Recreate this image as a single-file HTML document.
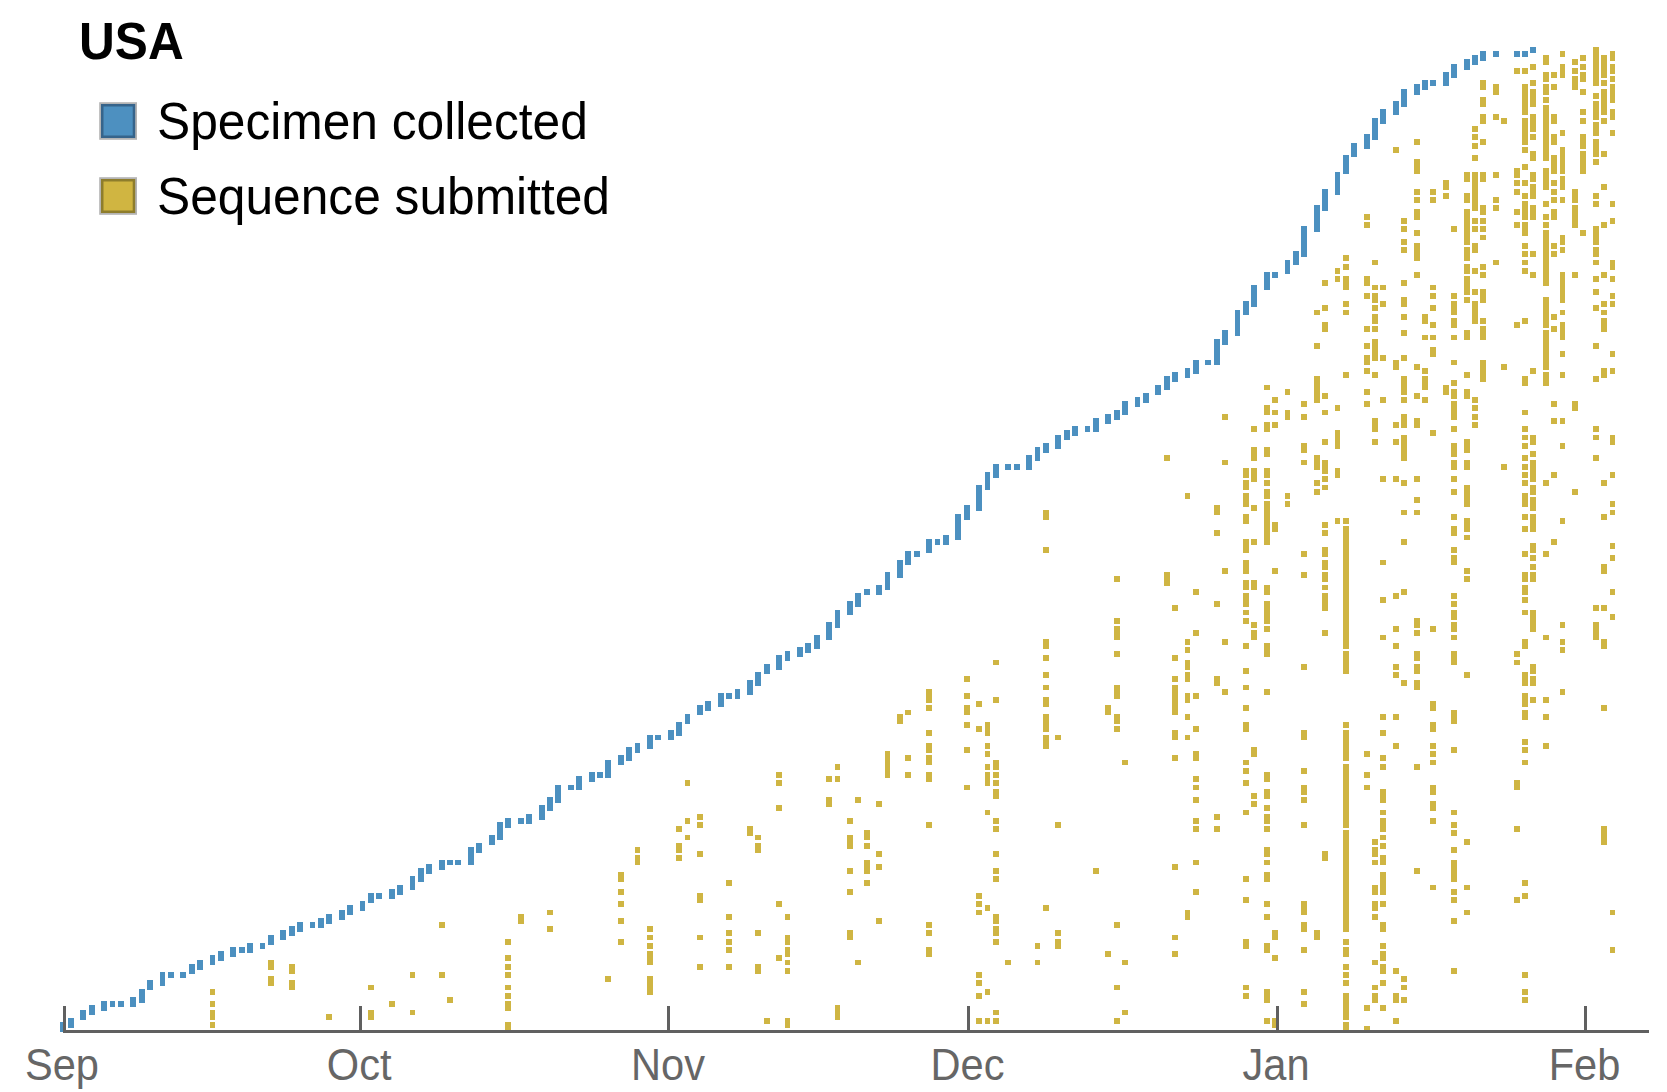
<!DOCTYPE html>
<html><head><meta charset="utf-8"><title>USA</title>
<style>
html,body{margin:0;padding:0;background:#fff;}
body{width:1667px;height:1092px;overflow:hidden;position:relative;font-family:"Liberation Sans",sans-serif;}
svg{position:absolute;left:0;top:0;}
text{font-family:"Liberation Sans",sans-serif;}
</style></head><body>
<svg width="1667" height="1092" viewBox="0 0 1667 1092">
<rect width="1667" height="1092" fill="#fff"/>

<path fill="#cfb543" shape-rendering="crispEdges" d="M210 1022h5v6h-5zM210 1010h5v10h-5zM210 1001h5v6h-5zM210 989h5v6h-5zM268 976h6v10h-6zM268 960h6v10h-6zM289 980h6v10h-6zM289 964h6v10h-6zM326 1014h6v6h-6zM368 1010h6v10h-6zM368 985h6v5h-6zM389 1001h6v6h-6zM410 1010h5v5h-5zM410 972h5v6h-5zM439 972h6v6h-6zM439 922h6v6h-6zM447 997h6v6h-6zM505 1022h6v8h-6zM505 1001h6v10h-6zM505 993h6v6h-6zM505 985h6v5h-6zM505 972h6v6h-6zM505 964h6v6h-6zM505 955h6v6h-6zM505 939h6v6h-6zM518 914h6v10h-6zM547 926h6v6h-6zM547 910h6v5h-6zM605 976h6v6h-6zM618 939h6v6h-6zM618 918h6v6h-6zM618 901h6v6h-6zM618 889h6v6h-6zM618 872h6v10h-6zM635 855h5v10h-5zM635 847h5v6h-5zM647 976h6v19h-6zM647 951h6v14h-6zM647 943h6v6h-6zM647 935h6v5h-6zM647 926h6v6h-6zM676 855h6v6h-6zM676 843h6v10h-6zM676 826h6v6h-6zM685 835h5v5h-5zM685 818h5v6h-5zM685 780h5v6h-5zM697 964h6v6h-6zM697 935h6v5h-6zM697 893h6v10h-6zM697 851h6v6h-6zM697 822h6v6h-6zM697 814h6v6h-6zM726 964h6v6h-6zM726 947h6v6h-6zM726 939h6v6h-6zM726 930h6v6h-6zM726 914h6v6h-6zM726 880h6v6h-6zM747 826h6v10h-6zM755 964h6v10h-6zM755 930h6v6h-6zM755 843h6v10h-6zM755 835h6v5h-6zM764 1018h6v6h-6zM776 955h6v6h-6zM776 901h6v6h-6zM776 805h6v6h-6zM776 780h6v6h-6zM776 772h6v6h-6zM785 1018h5v10h-5zM785 968h5v6h-5zM785 960h5v5h-5zM785 947h5v10h-5zM785 935h5v10h-5zM785 914h5v6h-5zM826 797h6v10h-6zM826 776h6v6h-6zM835 1005h5v15h-5zM835 776h5v6h-5zM835 764h5v6h-5zM847 930h6v10h-6zM847 889h6v6h-6zM847 868h6v6h-6zM847 835h6v14h-6zM847 818h6v6h-6zM855 960h6v5h-6zM855 797h6v6h-6zM864 880h6v6h-6zM864 860h6v14h-6zM864 843h6v6h-6zM864 830h6v10h-6zM876 918h6v6h-6zM876 864h6v6h-6zM876 851h6v6h-6zM876 801h6v6h-6zM885 751h5v27h-5zM897 714h6v10h-6zM905 772h6v6h-6zM905 755h6v6h-6zM905 710h6v5h-6zM926 947h6v10h-6zM926 930h6v6h-6zM926 922h6v6h-6zM926 822h6v6h-6zM926 772h6v10h-6zM926 755h6v10h-6zM926 743h6v10h-6zM926 730h6v6h-6zM926 705h6v6h-6zM926 689h6v14h-6zM964 785h6v5h-6zM964 747h6v6h-6zM964 722h6v6h-6zM964 705h6v10h-6zM964 693h6v6h-6zM964 676h6v6h-6zM976 1018h6v6h-6zM976 993h6v6h-6zM976 980h6v6h-6zM976 972h6v6h-6zM976 910h6v5h-6zM976 901h6v6h-6zM976 893h6v6h-6zM976 726h6v6h-6zM976 701h6v6h-6zM985 1018h5v6h-5zM985 989h5v6h-5zM985 905h5v6h-5zM985 810h5v5h-5zM985 772h5v14h-5zM985 764h5v6h-5zM985 751h5v6h-5zM985 743h5v6h-5zM985 722h5v14h-5zM993 1018h6v6h-6zM993 1010h6v5h-6zM993 939h6v6h-6zM993 926h6v10h-6zM993 914h6v10h-6zM993 876h6v6h-6zM993 868h6v6h-6zM993 851h6v6h-6zM993 826h6v6h-6zM993 818h6v6h-6zM993 789h6v10h-6zM993 780h6v6h-6zM993 772h6v6h-6zM993 760h6v10h-6zM993 697h6v6h-6zM993 660h6v5h-6zM1005 960h6v5h-6zM1035 960h5v5h-5zM1035 943h5v6h-5zM1043 905h6v6h-6zM1043 735h6v14h-6zM1043 714h6v18h-6zM1043 697h6v10h-6zM1043 685h6v5h-6zM1043 672h6v6h-6zM1043 655h6v6h-6zM1043 639h6v10h-6zM1043 547h6v6h-6zM1043 510h6v10h-6zM1055 939h6v10h-6zM1055 930h6v6h-6zM1055 822h6v6h-6zM1055 735h6v5h-6zM1093 868h6v6h-6zM1105 951h6v6h-6zM1105 705h6v10h-6zM1114 1018h6v6h-6zM1114 985h6v5h-6zM1114 922h6v6h-6zM1114 726h6v6h-6zM1114 714h6v10h-6zM1114 685h6v14h-6zM1114 651h6v6h-6zM1114 626h6v14h-6zM1114 618h6v6h-6zM1114 576h6v6h-6zM1122 1010h6v5h-6zM1122 960h6v5h-6zM1122 760h6v5h-6zM1164 572h6v14h-6zM1164 455h6v6h-6zM1172 951h6v6h-6zM1172 935h6v5h-6zM1172 864h6v6h-6zM1172 755h6v6h-6zM1172 730h6v10h-6zM1172 685h6v30h-6zM1172 676h6v6h-6zM1172 655h6v6h-6zM1172 605h6v6h-6zM1185 910h5v10h-5zM1185 735h5v5h-5zM1185 714h5v6h-5zM1185 693h5v10h-5zM1185 672h5v10h-5zM1185 660h5v10h-5zM1185 647h5v6h-5zM1185 639h5v6h-5zM1185 493h5v6h-5zM1193 889h6v6h-6zM1193 860h6v5h-6zM1193 826h6v6h-6zM1193 818h6v6h-6zM1193 797h6v6h-6zM1193 785h6v5h-6zM1193 776h6v6h-6zM1193 751h6v10h-6zM1193 726h6v6h-6zM1193 693h6v6h-6zM1193 630h6v6h-6zM1193 589h6v6h-6zM1214 826h6v6h-6zM1214 814h6v6h-6zM1214 676h6v10h-6zM1214 601h6v6h-6zM1214 530h6v6h-6zM1214 505h6v10h-6zM1222 689h6v6h-6zM1222 639h6v6h-6zM1222 568h6v6h-6zM1222 460h6v5h-6zM1222 414h6v6h-6zM1243 993h6v6h-6zM1243 985h6v5h-6zM1243 939h6v10h-6zM1243 897h6v6h-6zM1243 876h6v6h-6zM1243 810h6v5h-6zM1243 780h6v6h-6zM1243 768h6v6h-6zM1243 760h6v5h-6zM1243 722h6v10h-6zM1243 705h6v6h-6zM1243 685h6v5h-6zM1243 668h6v6h-6zM1243 643h6v6h-6zM1243 618h6v6h-6zM1243 610h6v5h-6zM1243 593h6v14h-6zM1243 580h6v10h-6zM1243 560h6v14h-6zM1243 539h6v14h-6zM1243 514h6v10h-6zM1243 493h6v14h-6zM1243 480h6v10h-6zM1243 468h6v10h-6zM1251 801h6v6h-6zM1251 793h6v6h-6zM1251 747h6v10h-6zM1251 630h6v10h-6zM1251 622h6v6h-6zM1251 580h6v10h-6zM1251 539h6v6h-6zM1251 505h6v6h-6zM1251 468h6v14h-6zM1251 447h6v14h-6zM1251 426h6v6h-6zM1264 1018h6v6h-6zM1264 989h6v14h-6zM1264 943h6v10h-6zM1264 914h6v6h-6zM1264 901h6v6h-6zM1264 872h6v10h-6zM1264 860h6v5h-6zM1264 847h6v10h-6zM1264 826h6v6h-6zM1264 814h6v10h-6zM1264 805h6v6h-6zM1264 789h6v10h-6zM1264 772h6v10h-6zM1264 689h6v6h-6zM1264 643h6v14h-6zM1264 626h6v6h-6zM1264 601h6v23h-6zM1264 585h6v10h-6zM1264 501h6v44h-6zM1264 489h6v10h-6zM1264 480h6v6h-6zM1264 468h6v10h-6zM1264 447h6v10h-6zM1264 422h6v10h-6zM1264 405h6v10h-6zM1264 385h6v5h-6zM1272 1018h6v10h-6zM1272 955h6v6h-6zM1272 930h6v10h-6zM1272 568h6v6h-6zM1272 522h6v10h-6zM1272 422h6v6h-6zM1272 410h6v5h-6zM1272 397h6v6h-6zM1285 501h5v6h-5zM1285 493h5v6h-5zM1285 410h5v10h-5zM1285 389h5v6h-5zM1301 1001h6v6h-6zM1301 989h6v6h-6zM1301 947h6v6h-6zM1301 922h6v10h-6zM1301 901h6v14h-6zM1301 822h6v6h-6zM1301 797h6v6h-6zM1301 785h6v10h-6zM1301 768h6v6h-6zM1301 730h6v10h-6zM1301 664h6v6h-6zM1301 572h6v6h-6zM1301 551h6v6h-6zM1301 460h6v5h-6zM1301 443h6v10h-6zM1301 414h6v6h-6zM1301 401h6v6h-6zM1314 930h6v10h-6zM1314 489h6v6h-6zM1314 480h6v6h-6zM1314 455h6v15h-6zM1314 376h6v27h-6zM1314 343h6v6h-6zM1314 310h6v5h-6zM1322 851h6v10h-6zM1322 630h6v6h-6zM1322 593h6v18h-6zM1322 585h6v5h-6zM1322 572h6v10h-6zM1322 560h6v10h-6zM1322 547h6v10h-6zM1322 530h6v6h-6zM1322 522h6v6h-6zM1322 485h6v5h-6zM1322 476h6v6h-6zM1322 460h6v14h-6zM1322 439h6v6h-6zM1322 410h6v5h-6zM1322 393h6v6h-6zM1322 322h6v10h-6zM1322 305h6v6h-6zM1322 280h6v6h-6zM1335 518h5v6h-5zM1335 468h5v10h-5zM1335 430h5v19h-5zM1335 405h5v6h-5zM1335 276h5v6h-5zM1335 268h5v6h-5zM1343 1022h6v8h-6zM1343 993h6v27h-6zM1343 980h6v6h-6zM1343 972h6v6h-6zM1343 964h6v6h-6zM1343 947h6v10h-6zM1343 939h6v6h-6zM1343 830h6v102h-6zM1343 764h6v64h-6zM1343 730h6v31h-6zM1343 722h6v6h-6zM1343 651h6v23h-6zM1343 526h6v123h-6zM1343 518h6v6h-6zM1343 372h6v6h-6zM1343 310h6v5h-6zM1343 301h6v6h-6zM1343 276h6v14h-6zM1343 264h6v6h-6zM1343 255h6v6h-6zM1364 1026h6v4h-6zM1364 1005h6v6h-6zM1364 785h6v5h-6zM1364 772h6v6h-6zM1364 751h6v6h-6zM1364 401h6v6h-6zM1364 389h6v6h-6zM1364 368h6v6h-6zM1364 355h6v10h-6zM1364 343h6v6h-6zM1364 326h6v6h-6zM1364 293h6v6h-6zM1364 276h6v10h-6zM1364 222h6v6h-6zM1364 214h6v6h-6zM1372 993h6v10h-6zM1372 985h6v5h-6zM1372 960h6v5h-6zM1372 914h6v6h-6zM1372 901h6v10h-6zM1372 885h6v10h-6zM1372 860h6v5h-6zM1372 847h6v10h-6zM1372 839h6v6h-6zM1372 439h6v6h-6zM1372 418h6v14h-6zM1372 372h6v6h-6zM1372 339h6v22h-6zM1372 326h6v6h-6zM1372 314h6v10h-6zM1372 305h6v6h-6zM1372 293h6v10h-6zM1372 285h6v5h-6zM1372 260h6v5h-6zM1380 1005h6v6h-6zM1380 980h6v6h-6zM1380 964h6v10h-6zM1380 951h6v10h-6zM1380 943h6v6h-6zM1380 922h6v10h-6zM1380 901h6v6h-6zM1380 872h6v23h-6zM1380 855h6v10h-6zM1380 843h6v6h-6zM1380 835h6v5h-6zM1380 818h6v14h-6zM1380 810h6v5h-6zM1380 789h6v14h-6zM1380 764h6v6h-6zM1380 755h6v6h-6zM1380 730h6v6h-6zM1380 714h6v6h-6zM1380 635h6v5h-6zM1380 597h6v6h-6zM1380 560h6v5h-6zM1380 476h6v6h-6zM1380 397h6v6h-6zM1380 355h6v6h-6zM1380 301h6v6h-6zM1380 285h6v5h-6zM1393 1018h6v6h-6zM1393 993h6v10h-6zM1393 968h6v6h-6zM1393 743h6v6h-6zM1393 714h6v6h-6zM1393 672h6v6h-6zM1393 664h6v6h-6zM1393 643h6v6h-6zM1393 626h6v6h-6zM1393 593h6v6h-6zM1393 476h6v6h-6zM1393 439h6v6h-6zM1393 422h6v6h-6zM1393 360h6v10h-6zM1393 147h6v6h-6zM1401 997h6v6h-6zM1401 985h6v5h-6zM1401 976h6v6h-6zM1401 680h6v6h-6zM1401 589h6v6h-6zM1401 539h6v6h-6zM1401 510h6v5h-6zM1401 480h6v6h-6zM1401 435h6v26h-6zM1401 414h6v14h-6zM1401 397h6v6h-6zM1401 376h6v19h-6zM1401 355h6v6h-6zM1401 330h6v6h-6zM1401 314h6v6h-6zM1401 297h6v10h-6zM1401 280h6v6h-6zM1401 247h6v6h-6zM1401 239h6v6h-6zM1401 226h6v6h-6zM1401 218h6v6h-6zM1414 868h6v6h-6zM1414 764h6v6h-6zM1414 680h6v10h-6zM1414 664h6v10h-6zM1414 651h6v10h-6zM1414 630h6v6h-6zM1414 618h6v10h-6zM1414 510h6v5h-6zM1414 497h6v6h-6zM1414 476h6v6h-6zM1414 418h6v10h-6zM1414 393h6v6h-6zM1414 364h6v6h-6zM1414 272h6v6h-6zM1414 243h6v18h-6zM1414 230h6v6h-6zM1414 209h6v11h-6zM1414 197h6v6h-6zM1414 189h6v6h-6zM1414 159h6v15h-6zM1414 139h6v6h-6zM1422 397h6v6h-6zM1422 376h6v14h-6zM1422 368h6v6h-6zM1422 335h6v5h-6zM1422 314h6v10h-6zM1430 885h6v5h-6zM1430 818h6v6h-6zM1430 801h6v10h-6zM1430 785h6v10h-6zM1430 760h6v5h-6zM1430 751h6v6h-6zM1430 743h6v6h-6zM1430 722h6v10h-6zM1430 701h6v10h-6zM1430 626h6v6h-6zM1430 430h6v6h-6zM1430 347h6v10h-6zM1430 335h6v5h-6zM1430 322h6v6h-6zM1430 305h6v6h-6zM1430 293h6v6h-6zM1430 285h6v5h-6zM1430 197h6v6h-6zM1430 189h6v6h-6zM1443 385h6v10h-6zM1443 193h6v6h-6zM1443 180h6v10h-6zM1451 968h6v6h-6zM1451 918h6v6h-6zM1451 897h6v6h-6zM1451 889h6v6h-6zM1451 860h6v22h-6zM1451 847h6v6h-6zM1451 830h6v6h-6zM1451 822h6v6h-6zM1451 810h6v5h-6zM1451 747h6v6h-6zM1451 710h6v14h-6zM1451 651h6v14h-6zM1451 635h6v5h-6zM1451 622h6v10h-6zM1451 610h6v10h-6zM1451 601h6v6h-6zM1451 593h6v6h-6zM1451 555h6v10h-6zM1451 547h6v6h-6zM1451 526h6v10h-6zM1451 514h6v6h-6zM1451 489h6v6h-6zM1451 476h6v6h-6zM1451 460h6v10h-6zM1451 443h6v14h-6zM1451 426h6v6h-6zM1451 401h6v19h-6zM1451 389h6v10h-6zM1451 380h6v6h-6zM1451 360h6v5h-6zM1451 335h6v5h-6zM1451 318h6v10h-6zM1451 301h6v14h-6zM1451 293h6v6h-6zM1451 226h6v6h-6zM1464 910h6v5h-6zM1464 885h6v5h-6zM1464 839h6v6h-6zM1464 672h6v6h-6zM1464 576h6v6h-6zM1464 568h6v6h-6zM1464 535h6v5h-6zM1464 518h6v14h-6zM1464 485h6v22h-6zM1464 460h6v10h-6zM1464 439h6v14h-6zM1464 389h6v10h-6zM1464 372h6v6h-6zM1464 330h6v10h-6zM1464 297h6v6h-6zM1464 276h6v19h-6zM1464 264h6v10h-6zM1464 247h6v14h-6zM1464 209h6v36h-6zM1464 193h6v10h-6zM1464 172h6v10h-6zM1472 422h6v6h-6zM1472 414h6v6h-6zM1472 405h6v6h-6zM1472 397h6v6h-6zM1472 301h6v23h-6zM1472 289h6v6h-6zM1472 268h6v6h-6zM1472 243h6v10h-6zM1472 226h6v6h-6zM1472 218h6v6h-6zM1472 172h6v39h-6zM1472 155h6v6h-6zM1472 143h6v6h-6zM1472 134h6v6h-6zM1472 126h6v6h-6zM1480 360h6v22h-6zM1480 326h6v14h-6zM1480 318h6v6h-6zM1480 289h6v14h-6zM1480 272h6v6h-6zM1480 264h6v6h-6zM1480 235h6v5h-6zM1480 226h6v6h-6zM1480 218h6v6h-6zM1480 205h6v10h-6zM1480 172h6v10h-6zM1480 139h6v6h-6zM1480 114h6v10h-6zM1480 97h6v10h-6zM1480 80h6v10h-6zM1493 260h6v5h-6zM1493 205h6v6h-6zM1493 197h6v6h-6zM1493 172h6v6h-6zM1493 114h6v6h-6zM1493 84h6v11h-6zM1501 464h6v6h-6zM1501 364h6v6h-6zM1501 118h6v6h-6zM1514 897h6v6h-6zM1514 826h6v6h-6zM1514 780h6v10h-6zM1514 660h6v5h-6zM1514 651h6v6h-6zM1514 322h6v6h-6zM1514 222h6v6h-6zM1514 209h6v6h-6zM1514 189h6v6h-6zM1514 180h6v6h-6zM1514 168h6v10h-6zM1514 68h6v6h-6zM1522 997h6v6h-6zM1522 989h6v6h-6zM1522 972h6v6h-6zM1522 893h6v6h-6zM1522 880h6v6h-6zM1522 760h6v5h-6zM1522 747h6v6h-6zM1522 739h6v6h-6zM1522 710h6v10h-6zM1522 693h6v14h-6zM1522 672h6v14h-6zM1522 639h6v10h-6zM1522 610h6v5h-6zM1522 597h6v6h-6zM1522 585h6v10h-6zM1522 572h6v10h-6zM1522 551h6v6h-6zM1522 526h6v6h-6zM1522 514h6v6h-6zM1522 493h6v14h-6zM1522 480h6v6h-6zM1522 472h6v6h-6zM1522 464h6v6h-6zM1522 455h6v6h-6zM1522 443h6v6h-6zM1522 435h6v5h-6zM1522 426h6v6h-6zM1522 410h6v5h-6zM1522 376h6v10h-6zM1522 318h6v6h-6zM1522 268h6v6h-6zM1522 260h6v5h-6zM1522 251h6v6h-6zM1522 243h6v6h-6zM1522 222h6v14h-6zM1522 201h6v19h-6zM1522 193h6v6h-6zM1522 180h6v6h-6zM1522 164h6v6h-6zM1522 147h6v6h-6zM1522 118h6v27h-6zM1522 84h6v31h-6zM1522 68h6v6h-6zM1530 697h6v6h-6zM1530 676h6v10h-6zM1530 664h6v10h-6zM1530 610h6v22h-6zM1530 572h6v10h-6zM1530 564h6v6h-6zM1530 555h6v6h-6zM1530 543h6v10h-6zM1530 514h6v18h-6zM1530 497h6v14h-6zM1530 485h6v10h-6zM1530 460h6v22h-6zM1530 451h6v6h-6zM1530 435h6v10h-6zM1530 368h6v6h-6zM1530 272h6v6h-6zM1530 251h6v6h-6zM1530 205h6v15h-6zM1530 184h6v15h-6zM1530 172h6v10h-6zM1530 151h6v10h-6zM1530 134h6v6h-6zM1530 114h6v18h-6zM1530 89h6v18h-6zM1530 80h6v6h-6zM1530 64h6v6h-6zM1543 743h6v6h-6zM1543 714h6v6h-6zM1543 697h6v6h-6zM1543 635h6v5h-6zM1543 551h6v6h-6zM1543 480h6v6h-6zM1543 372h6v14h-6zM1543 330h6v40h-6zM1543 297h6v31h-6zM1543 230h6v56h-6zM1543 222h6v6h-6zM1543 214h6v6h-6zM1543 201h6v6h-6zM1543 168h6v22h-6zM1543 105h6v56h-6zM1543 97h6v6h-6zM1543 84h6v11h-6zM1543 72h6v10h-6zM1543 55h6v10h-6zM1551 539h6v6h-6zM1551 472h6v6h-6zM1551 418h6v6h-6zM1551 401h6v6h-6zM1551 326h6v6h-6zM1551 314h6v6h-6zM1551 251h6v6h-6zM1551 243h6v6h-6zM1551 209h6v11h-6zM1551 197h6v6h-6zM1551 189h6v6h-6zM1551 180h6v6h-6zM1551 155h6v19h-6zM1551 134h6v11h-6zM1551 114h6v10h-6zM1551 84h6v6h-6zM1551 72h6v6h-6zM1560 689h5v6h-5zM1560 647h5v6h-5zM1560 639h5v6h-5zM1560 622h5v6h-5zM1560 518h5v6h-5zM1560 443h5v6h-5zM1560 418h5v6h-5zM1560 372h5v6h-5zM1560 351h5v6h-5zM1560 322h5v18h-5zM1560 310h5v5h-5zM1560 272h5v31h-5zM1560 247h5v6h-5zM1560 235h5v10h-5zM1560 197h5v6h-5zM1560 176h5v14h-5zM1560 147h5v27h-5zM1560 130h5v6h-5zM1560 64h5v14h-5zM1560 51h5v6h-5zM1572 489h6v6h-6zM1572 401h6v10h-6zM1572 272h6v6h-6zM1572 205h6v23h-6zM1572 189h6v14h-6zM1572 76h6v14h-6zM1572 68h6v6h-6zM1572 59h6v6h-6zM1580 230h6v6h-6zM1580 151h6v23h-6zM1580 134h6v15h-6zM1580 118h6v6h-6zM1580 109h6v6h-6zM1580 89h6v6h-6zM1580 72h6v10h-6zM1580 64h6v6h-6zM1580 55h6v6h-6zM1593 622h6v18h-6zM1593 605h6v6h-6zM1593 455h6v6h-6zM1593 435h6v5h-6zM1593 426h6v6h-6zM1593 376h6v6h-6zM1593 343h6v6h-6zM1593 305h6v6h-6zM1593 289h6v6h-6zM1593 276h6v6h-6zM1593 260h6v5h-6zM1593 247h6v10h-6zM1593 226h6v19h-6zM1593 201h6v6h-6zM1593 193h6v6h-6zM1593 159h6v6h-6zM1593 139h6v18h-6zM1593 122h6v14h-6zM1593 101h6v19h-6zM1593 93h6v6h-6zM1593 47h6v39h-6zM1601 826h6v19h-6zM1601 705h6v6h-6zM1601 639h6v10h-6zM1601 605h6v6h-6zM1601 564h6v10h-6zM1601 514h6v6h-6zM1601 480h6v6h-6zM1601 368h6v10h-6zM1601 318h6v14h-6zM1601 310h6v5h-6zM1601 301h6v6h-6zM1601 272h6v6h-6zM1601 222h6v6h-6zM1601 184h6v6h-6zM1601 151h6v6h-6zM1601 118h6v6h-6zM1601 89h6v26h-6zM1601 80h6v6h-6zM1601 55h6v23h-6zM1610 947h5v6h-5zM1610 910h5v5h-5zM1610 614h5v6h-5zM1610 589h5v6h-5zM1610 555h5v6h-5zM1610 543h5v6h-5zM1610 510h5v5h-5zM1610 501h5v6h-5zM1610 472h5v6h-5zM1610 435h5v10h-5zM1610 368h5v6h-5zM1610 351h5v6h-5zM1610 301h5v6h-5zM1610 293h5v6h-5zM1610 276h5v6h-5zM1610 260h5v10h-5zM1610 218h5v6h-5zM1610 201h5v6h-5zM1610 130h5v6h-5zM1610 109h5v11h-5zM1610 84h5v19h-5zM1610 76h5v6h-5zM1610 64h5v10h-5zM1610 51h5v10h-5z"/>
<path fill="#4c90c0" shape-rendering="crispEdges" d="M60 1022h5v10h-5zM68 1018h6v10h-6zM80 1010h6v10h-6zM89 1005h6v10h-6zM101 1001h6v10h-6zM110 1001h5v6h-5zM118 1001h6v6h-6zM130 997h6v10h-6zM139 989h6v14h-6zM147 980h6v10h-6zM160 972h5v14h-5zM168 972h6v6h-6zM180 972h6v6h-6zM189 964h6v10h-6zM197 960h6v10h-6zM210 955h5v10h-5zM218 951h6v10h-6zM230 947h6v10h-6zM239 947h6v6h-6zM247 943h6v10h-6zM260 943h5v6h-5zM268 935h6v10h-6zM280 930h6v10h-6zM289 926h6v10h-6zM297 922h6v10h-6zM310 922h5v6h-5zM318 918h6v10h-6zM326 914h6v10h-6zM339 910h6v10h-6zM347 905h6v10h-6zM360 901h5v10h-5zM368 893h6v10h-6zM376 893h6v6h-6zM389 889h6v10h-6zM397 885h6v10h-6zM410 876h5v14h-5zM418 868h6v14h-6zM426 864h6v10h-6zM439 860h6v10h-6zM447 860h6v5h-6zM455 860h6v5h-6zM468 847h6v18h-6zM476 843h6v10h-6zM489 835h6v10h-6zM497 822h6v18h-6zM505 818h6v10h-6zM518 818h6v6h-6zM526 814h6v10h-6zM539 805h6v15h-6zM547 797h6v14h-6zM555 785h6v18h-6zM568 785h6v5h-6zM576 776h6v14h-6zM589 772h6v10h-6zM597 772h6v6h-6zM605 760h6v18h-6zM618 755h6v10h-6zM626 747h6v14h-6zM635 743h5v10h-5zM647 735h6v14h-6zM655 735h6v5h-6zM668 730h6v10h-6zM676 722h6v14h-6zM685 714h5v10h-5zM697 705h6v10h-6zM705 701h6v10h-6zM718 693h6v14h-6zM726 693h6v6h-6zM735 689h5v10h-5zM747 680h6v15h-6zM755 672h6v14h-6zM764 664h6v10h-6zM776 655h6v15h-6zM785 651h5v10h-5zM797 647h6v10h-6zM805 643h6v10h-6zM814 635h6v14h-6zM826 622h6v18h-6zM835 610h5v18h-5zM847 601h6v14h-6zM855 593h6v14h-6zM864 589h6v6h-6zM876 585h6v10h-6zM885 572h5v18h-5zM897 560h6v18h-6zM905 551h6v14h-6zM914 551h6v6h-6zM926 539h6v14h-6zM935 539h5v6h-5zM943 535h6v10h-6zM955 514h6v26h-6zM964 505h6v15h-6zM976 485h6v26h-6zM985 472h5v18h-5zM993 464h6v14h-6zM1005 464h6v6h-6zM1014 464h6v6h-6zM1026 455h6v15h-6zM1035 447h5v14h-5zM1043 443h6v10h-6zM1055 435h6v14h-6zM1064 430h6v10h-6zM1072 426h6v10h-6zM1085 426h5v6h-5zM1093 418h6v14h-6zM1105 414h6v10h-6zM1114 410h6v10h-6zM1122 401h6v14h-6zM1135 397h5v10h-5zM1143 393h6v10h-6zM1155 385h6v10h-6zM1164 376h6v14h-6zM1172 372h6v10h-6zM1185 368h5v10h-5zM1193 360h6v14h-6zM1205 360h6v5h-6zM1214 339h6v26h-6zM1222 330h6v15h-6zM1235 310h5v26h-5zM1243 301h6v14h-6zM1251 285h6v22h-6zM1264 272h6v18h-6zM1272 272h6v6h-6zM1285 260h5v14h-5zM1293 251h6v14h-6zM1301 226h6v31h-6zM1314 205h6v27h-6zM1322 189h6v22h-6zM1335 172h5v23h-5zM1343 155h6v19h-6zM1351 143h6v14h-6zM1364 134h6v15h-6zM1372 118h6v22h-6zM1380 109h6v15h-6zM1393 101h6v14h-6zM1401 89h6v18h-6zM1414 84h6v11h-6zM1422 80h6v10h-6zM1430 80h6v6h-6zM1443 72h6v14h-6zM1451 64h6v14h-6zM1464 59h6v11h-6zM1472 55h6v10h-6zM1480 51h6v10h-6zM1493 51h6v6h-6zM1514 51h6v6h-6zM1522 51h6v6h-6zM1530 47h6v6h-6z"/>
<g fill="#606060" shape-rendering="crispEdges">
<rect x="63" y="1030" width="1586" height="3"/>
<rect x="63" y="1006" width="3" height="27"/>
<rect x="359" y="1006" width="3" height="27"/>
<rect x="667" y="1006" width="3" height="27"/>
<rect x="967" y="1006" width="3" height="27"/>
<rect x="1276" y="1006" width="3" height="27"/>
<rect x="1584" y="1006" width="3" height="27"/>
</g>
<g fill="#666" font-size="41.6px" text-anchor="middle">
<text transform="translate(62,1080.1) scale(1,1.045)">Sep</text>
<text transform="translate(359.2,1080.1) scale(1,1.045)">Oct</text>
<text transform="translate(668,1080.1) scale(1,1.045)">Nov</text>
<text transform="translate(967.5,1080.1) scale(1,1.045)">Dec</text>
<text transform="translate(1276,1080.1) scale(1,1.045)">Jan</text>
<text transform="translate(1584.5,1080.1) scale(1,1.045)">Feb</text>
</g>
<text transform="translate(79,59.2) scale(1,1.045)" font-size="49.6px" font-weight="bold" fill="#000">USA</text>
<rect x="99.2" y="102.2" width="37.8" height="37.6" fill="#b4b4b4"/><rect x="101" y="104" width="34.2" height="34" fill="#36648b"/><rect x="103.5" y="106.5" width="29.2" height="29" fill="#4d90c0"/>
<rect x="99.2" y="177.2" width="37.8" height="37.6" fill="#b4b4b4"/><rect x="101" y="179" width="34.2" height="34" fill="#8e7d2c"/><rect x="103.5" y="181.5" width="29.2" height="29" fill="#d0b541"/>
<text transform="translate(157,138.8) scale(1,1.04)" font-size="49.7px" fill="#000">Specimen collected</text>
<text transform="translate(157,213.8) scale(1,1.04)" font-size="49.7px" fill="#000">Sequence submitted</text>
</svg></body></html>
